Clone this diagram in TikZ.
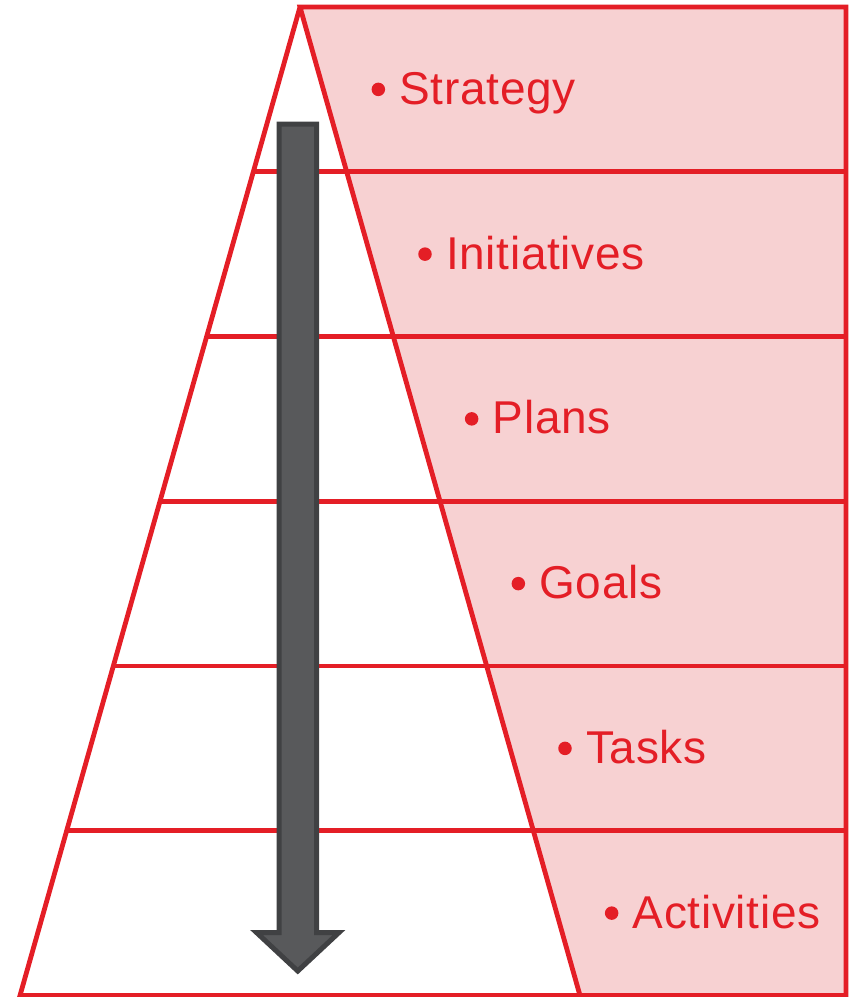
\documentclass[tikz,border=0pt]{standalone}
\usepackage{fontspec}
\setmainfont{Liberation Sans}[LetterSpace=1.5]
\usetikzlibrary{calc}
\definecolor{pyred}{HTML}{E41E26}
\definecolor{pypink}{HTML}{F7D1D2}
\definecolor{arrfill}{HTML}{58595B}
\definecolor{arrdraw}{HTML}{404143}
\tikzset{
  redline/.style={draw=pyred, line width=4.8pt},
  dot/.style={circle, fill=pyred, inner sep=0pt, minimum size=13.5pt},
  lab/.style={text=pyred, inner sep=0pt, font=\fontsize{46}{50}\selectfont},
  bigarrow/.style={fill=arrfill, draw=arrdraw, line width=5pt, line join=miter}
}
\begin{document}
\begin{tikzpicture}[x=1pt,y=-1pt]
\useasboundingbox (0,0) rectangle (852,997);
\coordinate (A) at (300,7);
\coordinate (TR) at (846,7);
\coordinate (BR) at (846,995.5);
\coordinate (BL) at (20,995.5);
\coordinate (BM) at (580,995.5);
% pink region
\fill[pypink] (A) -- (TR) -- (BR) -- (BM) -- cycle;
% level lines
\foreach \k in {1,...,5}
  \draw[redline] ($(A)!{\k/6}!(BL)$) -- ($(TR)!{\k/6}!(BR)$);
% outline
\draw[redline, line join=miter] (BM) -- (A) -- (TR) -- (BR) -- (BL) -- (A);
% labels
\foreach \lab [count=\k from 0] in {Strategy,Initiatives,Plans,Goals,Tasks,Activities} {
  \coordinate (e\k) at ($(A)!{(\k+0.5)/6}!(BM)$);
  \node[dot] (b\k) at ([xshift=55pt]e\k) {};
  \node[lab, anchor=base west] (t\k) at ([xshift=76pt,yshift=-15pt]e\k) {\lab};
}
% arrow
\draw[bigarrow] (279,124) -- (316.5,124) -- (316.5,932.5) -- (339,932.5)
  -- (297.75,971) -- (256.5,932.5) -- (279,932.5) -- cycle;
\end{tikzpicture}
\end{document}
